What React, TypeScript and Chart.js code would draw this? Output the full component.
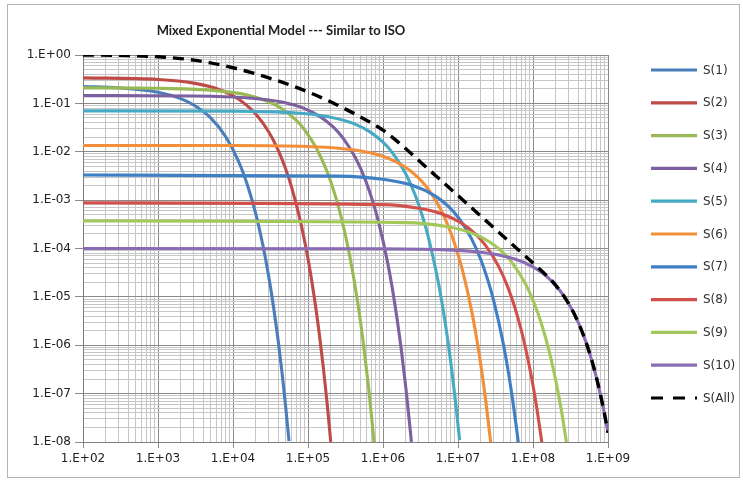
import React, { useEffect, useRef } from "react";
import Chart from "chart.js/auto";

const chartTitle = "Mixed Exponential Model --- Similar to ISO";
const seriesNames = ["S(1)", "S(2)", "S(3)", "S(4)", "S(5)", "S(6)", "S(7)", "S(8)", "S(9)", "S(10)", "S(All)"];
const seriesColors = ["#4A7EBB", "#BE4B48", "#98B954", "#7D60A0", "#46AAC5", "#F38F3A", "#3F7FC4", "#D2504C", "#A3C85A", "#8A6CB5", "#000000"];

const xTickLabels = ["1.E+02", "1.E+03", "1.E+04", "1.E+05", "1.E+06", "1.E+07", "1.E+08", "1.E+09"];
const yTickLabels = ["1.E-08", "1.E-07", "1.E-06", "1.E-05", "1.E-04", "1.E-03", "1.E-02", "1.E-01", "1.E+00"];

const s1X = [100, 300, 1000, 2000, 3000, 5000, 8000, 12000, 16000, 20000, 25000, 30000, 35000, 40000, 45000, 50000, 55800];
const s1Y = [0.223, 0.21, 0.17, 0.1255, 0.0927, 0.0506, 0.0204, 0.00607, 0.0018, 5.36e-4, 1.18e-4, 2.59e-5, 5.7e-6, 1.25e-6, 2.75e-7, 6.04e-8, 1.04e-8];

const s2X = [100, 1000, 3000, 6000, 10000, 15000, 20000, 30000, 40000, 50000, 60000, 80000, 100000, 120000, 140000, 160000, 180000, 201000];
const s2Y = [0.337, 0.312, 0.2625, 0.2027, 0.1436, 0.0933, 0.0607, 0.0256, 0.0108, 0.00457, 0.00193, 3.44e-4, 6.13e-5, 1.09e-5, 1.95e-6, 3.48e-7, 6.2e-8, 1.01e-8];

const s3X = [100, 1000, 5000, 15000, 30000, 45000, 70000, 90000, 130000, 180000, 230000, 280000, 360000, 450000, 540000, 630000, 700000, 759000];
const s3Y = [0.2095, 0.2054, 0.1879, 0.1505, 0.1078, 0.0773, 0.0443, 0.0284, 0.0117, 0.00385, 0.00127, 4.17e-4, 7.05e-5, 9.53e-6, 1.29e-6, 1.75e-7, 3.68e-8, 9.9e-9];

const s4X = [100, 3000, 15000, 45000, 90000, 145000, 220000, 290000, 430000, 580000, 730000, 870000, 1160000, 1450000, 1740000, 2030000, 2320000, 2390000];
const s4Y = [0.1449, 0.142, 0.1307, 0.1063, 0.078, 0.0533, 0.0318, 0.0196, 0.00747, 0.00266, 9.44e-4, 3.59e-4, 4.86e-5, 6.58e-6, 8.91e-7, 1.21e-7, 1.63e-8, 1.01e-8];

const s5X = [100, 10000, 70000, 200000, 400000, 670000, 1000000, 1340000, 2000000, 2700000, 3400000, 4000000, 5400000, 6700000, 8000000, 9400000, 10500000];
const s5Y = [0.07, 0.069, 0.0631, 0.0519, 0.0385, 0.02575, 0.01573, 0.00947, 0.00354, 0.001245, 4.38e-4, 1.79e-4, 2.21e-5, 3.18e-6, 4.57e-7, 5.65e-8, 1.09e-8];

const s6X = [100, 10000, 100000, 400000, 1000000, 1930000, 2900000, 3860000, 5800000, 7700000, 9650000, 11600000, 15400000, 19300000, 23200000, 27300000];
const s6Y = [0.0135, 0.01349, 0.01282, 0.01097, 0.00804, 0.00497, 0.003, 0.00183, 6.69e-4, 2.5e-4, 9.1e-5, 3.31e-5, 4.62e-6, 6.13e-7, 8.12e-8, 9.7e-9];

const s7X = [100, 250000, 1000000, 2500000, 5000000, 7500000, 10000000, 15000000, 20000000, 25000000, 30000000, 40000000, 50000000, 60000000, 64000000];
const s7Y = [0.0033, 0.00314, 0.0027, 0.002, 0.00121, 7.36e-4, 4.47e-4, 1.64e-4, 6.05e-5, 2.22e-5, 8.18e-6, 1.11e-6, 1.5e-7, 2.03e-8, 9.1e-9];

const s8X = [100, 1000000, 3000000, 6000000, 11500000, 17000000, 23000000, 34500000, 46000000, 57500000, 69000000, 80000000, 92000000, 104000000, 115000000, 131000000];
const s8Y = [0.00088, 8.07e-4, 6.78e-4, 5.22e-4, 3.24e-4, 2.01e-4, 1.19e-4, 4.38e-5, 1.61e-5, 5.93e-6, 2.18e-6, 8.38e-7, 2.95e-7, 1.04e-7, 4.0e-8, 9.9e-9];

const s9X = [100, 2000000, 7000000, 15000000, 26500000, 40000000, 53000000, 80000000, 106000000, 133000000, 160000000, 186000000, 212000000, 240000000, 279000000];
const s9Y = [0.00037, 3.43e-4, 2.84e-4, 2.1e-4, 1.36e-4, 8.18e-5, 5.01e-5, 1.81e-5, 6.78e-6, 2.45e-6, 8.83e-7, 3.31e-7, 1.24e-7, 4.31e-8, 9.9e-9];

const s10X = [100, 1000000, 10000000, 20000000, 35000000, 57000000, 80000000, 114000000, 160000000, 228000000, 300000000, 400000000, 500000000, 600000000, 700000000, 800000000, 900000000, 1000000000];
const s10Y = [1e-4, 9.91e-5, 9.16e-5, 8.39e-5, 7.36e-5, 6.07e-5, 4.96e-5, 3.68e-5, 2.46e-5, 1.35e-5, 7.2e-6, 2.99e-6, 1.25e-6, 5.18e-7, 2.16e-7, 8.96e-8, 3.73e-8, 1.55e-8];

const sAllX = [100, 300, 1000, 2000, 3000, 5000, 10000, 20000, 30000, 50000, 100000, 200000, 300000, 500000, 1000000, 2000000, 3000000, 5000000, 10000000, 20000000, 30000000, 50000000, 100000000, 150000000, 200000000, 300000000, 400000000, 500000000, 600000000, 700000000, 800000000, 900000000, 1000000000];
const sAllY = [1.0, 0.983, 0.919, 0.843, 0.782, 0.687, 0.545, 0.408, 0.336, 0.259, 0.173, 0.108, 0.0793, 0.0525, 0.0279, 0.0117, 0.00657, 0.00324, 0.00124, 4.73e-4, 2.69e-4, 1.32e-4, 5.03e-5, 2.81e-5, 1.75e-5, 7.2e-6, 2.99e-6, 1.25e-6, 5.18e-7, 2.16e-7, 8.96e-8, 3.73e-8, 1.55e-8];

const seriesX = [s1X, s2X, s3X, s4X, s5X, s6X, s7X, s8X, s9X, s10X, sAllX];
const seriesY = [s1Y, s2Y, s3Y, s4Y, s5Y, s6Y, s7Y, s8Y, s9Y, s10Y, sAllY];

const X_MIN = 1e2, X_MAX = 1e9, Y_MIN = 1e-8, Y_MAX = 1;
const MAJOR = "#8a8a8a";
const MINOR = "#c6c6c6";
const LABEL_FONT = "DejaVu Sans";

function logTicks(min: number, max: number) {
  const out: number[] = [];
  const e0 = Math.round(Math.log10(min));
  const e1 = Math.round(Math.log10(max));
  for (let e = e0; e <= e1; e++) {
    for (let m = 1; m <= 9; m++) {
      if (e === e1 && m > 1) break;
      out.push(Number((m * Math.pow(10, e)).toPrecision(6)));
    }
  }
  return out;
}
function isDecade(v: number) {
  if (!v) return false;
  const l = Math.log10(v);
  return Math.abs(l - Math.round(l)) < 1e-6;
}

const overlayPlugin = {
  id: "overlay",
  afterDraw(chart: any) {
    const ctx = chart.ctx;
    ctx.save();
    ctx.strokeStyle = "#b4b4b4";
    ctx.lineWidth = 1;
    ctx.strokeRect(7.5, 4.5, 732, 473);
    ctx.fillStyle = "#222";
    ctx.font = "bold 13px Lato";
    ctx.textAlign = "center";
    ctx.textBaseline = "alphabetic";
    ctx.fillText(chartTitle, 281, 35);
    ctx.font = `12px "${LABEL_FONT}"`;
    ctx.textAlign = "left";
    ctx.textBaseline = "middle";
    seriesNames.forEach((name, i) => {
      const y = 70 + i * 32.8;
      ctx.beginPath();
      ctx.strokeStyle = seriesColors[i];
      ctx.lineWidth = 3.2;
      ctx.setLineDash(i === 10 ? [12, 10] : []);
      ctx.moveTo(651, y);
      ctx.lineTo(697, y);
      ctx.stroke();
      ctx.setLineDash([]);
      ctx.fillStyle = "#2e2e2e";
      ctx.fillText(name, 703, y + 0.5);
    });
    ctx.restore();
  },
};

export default function App() {
  const ref = useRef<HTMLCanvasElement | null>(null);
  useEffect(() => {
    if (!ref.current) return;
    const xTicks = logTicks(X_MIN, X_MAX);
    const yTicks = logTicks(Y_MIN, Y_MAX);
    const datasets = seriesNames.map((name, i) => ({
      label: name,
      data: seriesX[i].map((x, k) => ({ x, y: seriesY[i][k] })),
      borderColor: seriesColors[i],
      backgroundColor: seriesColors[i],
      borderWidth: i === 10 ? 3.4 : 3.1,
      borderDash: i === 10 ? [11, 7] : [],
      pointRadius: 0,
      cubicInterpolationMode: "monotone" as const,
      fill: false,
      order: 10 - i,
    }));
    const chart = new Chart(ref.current, {
      type: "line",
      data: { datasets },
      plugins: [overlayPlugin],
      options: {
        animation: false,
        responsive: false,
        layout: { padding: { left: 0, top: 55, right: 135, bottom: 9 } },
        plugins: { legend: { display: false }, tooltip: { enabled: false }, title: { display: false } },
        scales: {
          x: {
            type: "logarithmic",
            min: X_MIN,
            max: X_MAX,
            afterBuildTicks: (axis: any) => {
              axis.ticks = xTicks.map((v) => ({ value: v, major: isDecade(v) }));
            },
            afterFit: (s: any) => {
              s.height = 30;
            },
            ticks: {
              autoSkip: false,
              maxRotation: 0,
              padding: 4,
              color: "#222",
              font: { family: LABEL_FONT, size: 12 },
              callback: (v: any) => (isDecade(Number(v)) ? xTickLabels[Math.round(Math.log10(Number(v))) - 2] : ""),
            },
            grid: {
              color: (c: any) => (isDecade(c.tick?.value) ? MAJOR : MINOR),
              tickColor: (c: any) => (isDecade(c.tick?.value) ? MAJOR : "rgba(0,0,0,0)"),
              tickLength: 6,
              lineWidth: 1,
            },
            border: { display: true, color: "#7f7f7f", width: 1 },
          },
          y: {
            type: "logarithmic",
            min: Y_MIN,
            max: Y_MAX,
            afterBuildTicks: (axis: any) => {
              axis.ticks = yTicks.map((v) => ({ value: v, major: isDecade(v) }));
            },
            afterFit: (s: any) => {
              s.width = 83;
            },
            ticks: {
              autoSkip: false,
              padding: 4,
              color: "#222",
              font: { family: LABEL_FONT, size: 12 },
              callback: (v: any) => (isDecade(Number(v)) ? yTickLabels[Math.round(Math.log10(Number(v))) + 8] : ""),
            },
            grid: {
              color: (c: any) => (isDecade(c.tick?.value) ? MAJOR : MINOR),
              tickColor: (c: any) => (isDecade(c.tick?.value) ? MAJOR : "rgba(0,0,0,0)"),
              tickLength: 8,
              lineWidth: 1,
            },
            border: { display: true, color: "#7f7f7f", width: 1 },
          },
        },
      },
    });
    return () => chart.destroy();
  }, []);
  return (
    <div style={{ position: "absolute", left: 0, top: 0, width: 743, height: 481, background: "#fff" }}>
      <canvas ref={ref} width={743} height={481} style={{ display: "block" }} />
    </div>
  );
}
